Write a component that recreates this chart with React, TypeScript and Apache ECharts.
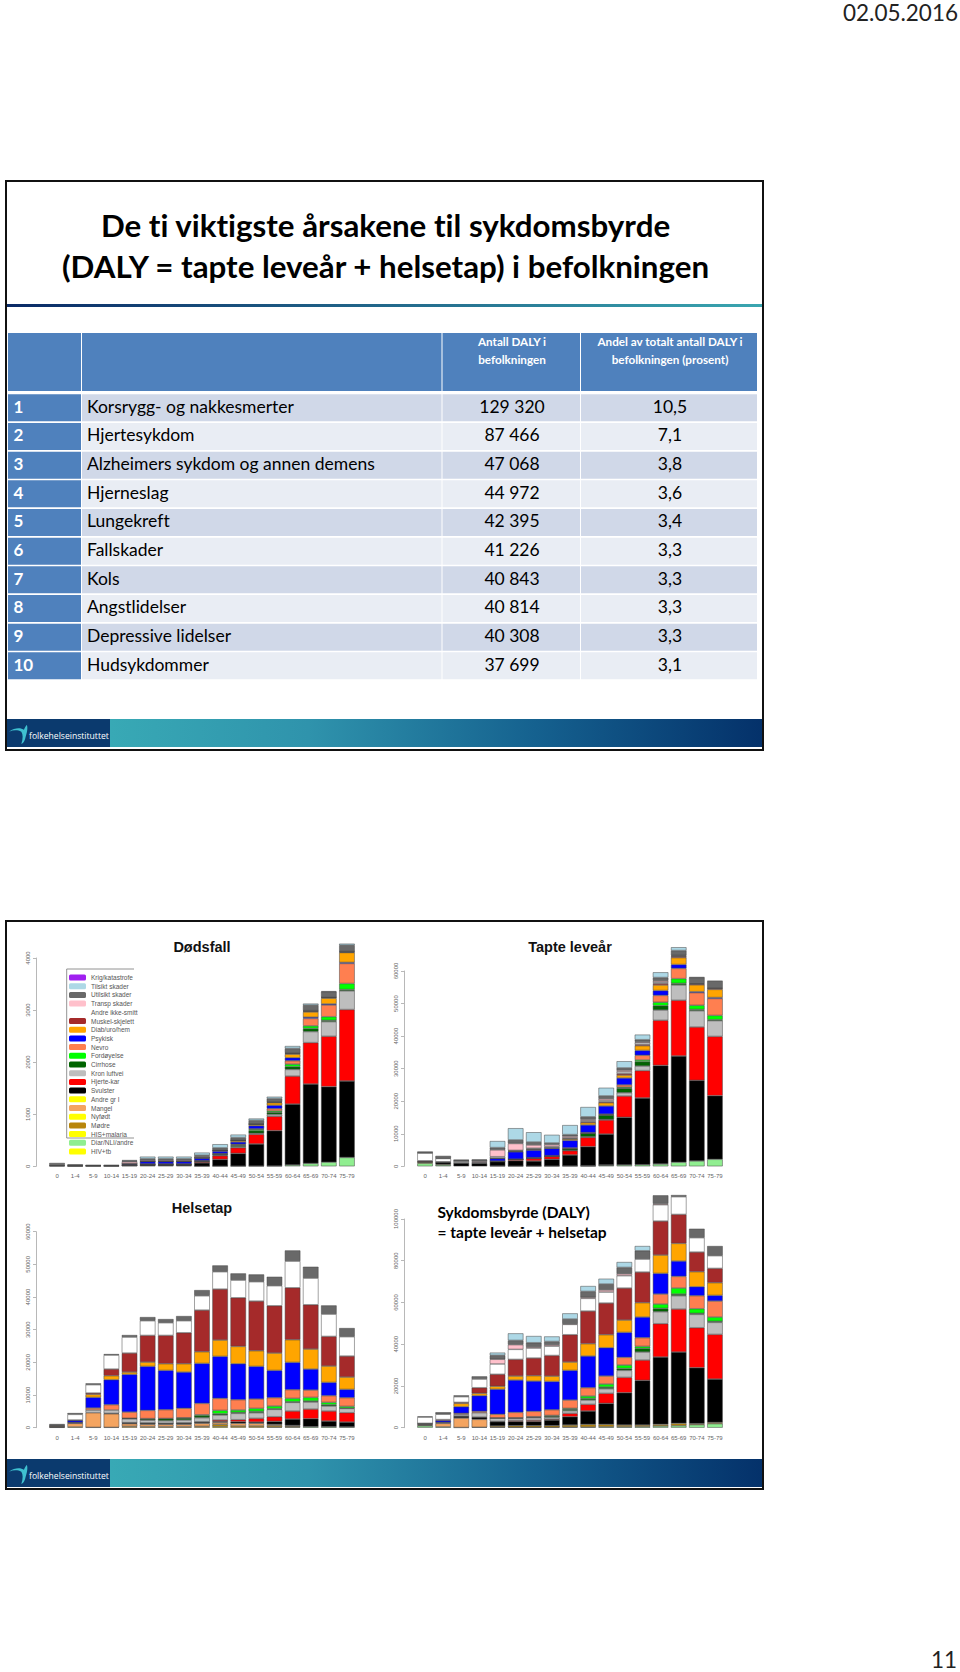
import React, { useEffect, useRef } from "react";
import * as echarts from "echarts";

const ageGroups = ["0","1-4","5-9","10-14","15-19","20-24","25-29","30-34","35-39","40-44","45-49","50-54","55-59","60-64","65-69","70-74","75-79"];

// Causes, bottom of the stack first
const causeNames = ["HIV+tb","Diar/NLI/andre","HIS+malaria","Mødre","Nyfødt","Mangel","Andre gr I","Svulster","Hjerte-kar","Kron luftvei","Cirrhose","Fordøyelse","Nevro","Psykisk","Diab/uro/hem","Muskel-skjelett","Andre ikke-smitt","Transp skader","Utilsikt skader","Tilsikt skader","Krig/katastrofe"];
const causeColors = ["#ffff00","#90ee90","#ffff00","#b8860b","#ffff00","#f4a460","#ffff00","#000000","#ff0000","#bebebe","#006400","#00ff00","#ff7f50","#0000ff","#ffa500","#a52a2a","#ffffff","#ffc0cb","#696969","#add8e6","#a020f0"];

const none = [0,0,0,0,0,0,0,0,0,0,0,0,0,0,0,0,0];

// Dødsfall
const dDiar = [6,3,0,0,0,0,0,0,1,2,3,4,5,25,55,80,170];
const dNyfodt = [8,0,0,0,0,0,0,0,0,0,0,0,0,0,0,0,0];
const dSvulster = [2,6,6,6,15,25,25,25,65,130,245,425,680,1170,1525,1450,1470];
const dHjerte = [0,0,0,0,3,8,8,8,20,70,108,185,275,537,795,966,1370];
const dKron = [0,0,0,0,1,3,3,3,5,12,20,20,38,128,212,282,360];
const dCirr = [0,0,0,0,0,3,3,3,10,20,25,50,39,52,60,25,25];
const dFord = [0,0,0,0,1,1,1,1,2,4,10,25,25,50,50,70,115];
const dNevro = [0,3,3,2,5,6,6,6,8,8,12,10,45,65,142,225,385];
const dPsyk = [0,0,0,0,18,45,45,45,45,45,45,60,64,57,25,20,20];
const dDiab = [0,0,0,0,3,4,4,4,7,12,26,25,50,70,100,110,190];
const dMusk = [0,0,0,0,2,2,2,2,3,3,5,5,10,15,15,15,10];
const dAndre = [10,6,3,3,3,3,3,3,2,3,3,3,5,5,5,5,5];
const dTransp = [0,0,5,6,35,20,20,20,15,10,6,5,5,5,5,5,5];
const dUlikt = [38,20,8,8,20,25,25,25,30,35,45,65,60,85,105,100,120];
const dTilsikt = [0,0,0,0,14,40,40,40,50,70,55,35,35,45,30,10,30];

// Tapte leveår
const tDiar = [900,400,0,0,80,40,40,50,80,100,300,400,500,700,1230,1640,2150];
const tModre = [0,0,0,0,0,0,0,0,0,100,100,0,0,0,0,0,0];
const tNyfodt = [300,200,0,0,0,0,0,0,0,0,0,0,0,0,0,0,0];
const tMangel = [100,0,0,0,0,0,0,0,0,0,0,0,0,0,0,0,0];
const tSvulster = [100,700,1000,900,1350,1700,1600,2100,3400,5840,9500,14650,20500,30300,32670,24760,19550];
const tHjerte = [100,0,0,0,100,350,800,900,1320,2860,4330,6550,8400,13850,17100,16400,18200];
const tKron = [0,0,0,0,20,30,60,60,100,200,200,1000,1400,3150,4700,5000,4850];
const tCirr = [0,0,0,0,0,30,60,60,500,1000,1300,1400,1350,1350,500,400,300];
const tFord = [0,0,0,0,0,0,0,0,50,50,100,300,500,1050,1450,1260,1300];
const tNevro = [0,100,100,100,50,50,100,100,200,200,200,700,1450,2100,3150,3890,5200];
const tPsyk = [0,0,0,0,800,2250,2300,2200,2300,2350,2500,2130,1500,1500,1200,300,300];
const tDiab = [0,0,0,0,100,150,200,200,400,700,1000,900,1450,1700,2100,2100,2500];
const tMusk = [200,0,0,0,50,100,100,100,200,300,300,500,400,500,400,300,300];
const tAndre = [2400,1000,500,200,400,200,300,300,200,300,400,500,500,400,150,100,100];
const tTransp = [50,100,50,300,2100,2100,1000,600,500,400,500,500,300,400,150,150,100];
const tUlikt = [400,700,250,450,700,1100,900,500,500,800,900,700,650,1000,1500,1700,2000];
const tTilsikt = [0,0,50,100,2000,3600,3000,2500,2900,3000,2500,2050,1550,1600,1000,100,100];

// Helsetap
const hHiv = [100,230,0,0,0,0,0,0,0,300,0,0,200,200,0,0,0];
const hDiar = [0,0,0,0,0,0,0,0,0,0,0,0,0,0,300,300,230];
const hModre = [0,0,100,100,420,320,320,320,430,730,530,530,520,300,0,0,0];
const hNyfodt = [100,0,0,0,0,0,0,0,0,0,0,0,0,0,0,0,0];
const hMangel = [300,1100,4490,4180,800,700,700,700,900,600,800,800,300,200,0,0,0];
const hSvulster = [20,200,0,100,300,400,300,410,400,300,510,400,920,1950,2450,1740,1500];
const hHjerte = [0,0,0,0,30,40,40,50,50,420,610,1130,1430,2450,2950,3060,2860];
const hKron = [0,0,810,1020,1200,830,780,870,1280,1530,1940,1730,2240,2650,2150,1530,1310];
const hCirr = [0,0,0,0,100,400,600,600,600,400,300,400,200,200,300,400,100];
const hFord = [0,0,0,0,50,100,100,100,300,1020,720,930,820,1030,1130,720,530];
const hNevro = [0,100,620,1640,1890,2510,2670,2890,3480,3680,3160,2850,2550,2650,2250,2050,2650];
const hPsyk = [0,620,3260,7650,11530,13470,12030,11090,12240,12850,11010,10000,8360,8370,6420,4070,2550];
const hDiab = [0,100,920,1220,710,1320,2040,2550,3570,5000,5310,4790,5310,6930,6120,5000,3770];
const hMusk = [100,0,410,2040,5820,8160,8670,9490,12750,15600,14890,15200,14480,15910,13570,9080,6430];
const hAndre = [200,1730,2550,4290,4900,4490,3880,3670,4380,5310,5410,5920,6120,8160,8160,6830,5920];
const hUlikt = [300,400,410,300,610,1120,1120,1430,1740,1930,2040,2240,2750,3260,3470,2650,2650];

// Sykdomsbyrde (DALY)
const sDiar = [900,400,0,0,200,160,160,160,280,300,400,400,500,800,960,1440,1920];
const sModre = [0,0,100,200,600,800,800,800,1000,1300,1200,880,780,800,1120,500,600];
const sNyfodt = [300,0,0,0,0,0,0,0,0,0,0,0,0,0,0,0,0];
const sMangel = [300,1680,4530,3800,0,0,0,0,0,0,0,0,0,0,0,0,0];
const sSvulster = [500,500,960,1110,2070,2070,2070,2710,3990,6400,10060,15490,21400,32260,34170,26810,20780];
const sHjerte = [0,0,0,0,150,400,500,400,1600,3180,4790,7340,9740,15970,20600,19150,21400];
const sKron = [0,0,800,2080,1600,1040,1260,880,1280,2070,2230,3360,3830,5750,6390,6400,5770];
const sCirr = [0,0,0,0,50,200,300,600,700,800,800,900,1750,1590,800,500,500];
const sFord = [0,0,0,0,50,100,180,320,410,1120,1440,1650,970,2080,2870,2210,2050];
const sNevro = [0,0,480,640,1710,2580,2560,2710,3990,3990,3830,3680,4150,4790,5590,6230,7670];
const sPsyk = [0,900,3190,7500,11980,15490,14530,13580,14220,15180,13580,11970,9900,9900,7350,4310,2710];
const sDiab = [0,0,1600,1120,1430,1910,2550,2550,3990,5900,6230,5910,6870,8780,8460,7190,6070];
const sMusk = [100,410,480,2710,5750,7990,8470,9900,13100,15660,15170,15330,14690,16290,13890,9420,6870];
const sAndre = [3000,2560,2710,4160,4950,4790,4790,4480,4940,6060,5270,5910,6220,7830,8470,6870,6060];
const sTransp = [0,0,0,0,2240,2240,500,600,300,500,1000,900,0,500,0,0,0];
const sUlikt = [300,950,640,1270,1910,2070,2050,1630,2260,2860,2830,3080,4000,4000,800,4310,4640];
const sTilsikt = [0,0,0,0,1280,3360,3200,2400,2720,2550,2550,2570,2240,0,0,0,0];

const dodsfallStack = [none,dDiar,none,none,dNyfodt,none,none,dSvulster,dHjerte,dKron,dCirr,dFord,dNevro,dPsyk,dDiab,dMusk,dAndre,dTransp,dUlikt,dTilsikt,none];
const tapteStack = [none,tDiar,none,tModre,tNyfodt,tMangel,none,tSvulster,tHjerte,tKron,tCirr,tFord,tNevro,tPsyk,tDiab,tMusk,tAndre,tTransp,tUlikt,tTilsikt,none];
const helseStack = [hHiv,hDiar,none,hModre,hNyfodt,hMangel,none,hSvulster,hHjerte,hKron,hCirr,hFord,hNevro,hPsyk,hDiab,hMusk,hAndre,none,hUlikt,none,none];
const dalyStack = [none,sDiar,none,sModre,sNyfodt,sMangel,none,sSvulster,sHjerte,sKron,sCirr,sFord,sNevro,sPsyk,sDiab,sMusk,sAndre,sTransp,sUlikt,sTilsikt,none];

const panelStacks = [dodsfallStack,tapteStack,helseStack,dalyStack];
const panelMax = [4000,60000,60000,100000];
const panelInterval = [1000,10000,10000,20000];

// Table
const ranks = ["1","2","3","4","5","6","7","8","9","10"];
const tableCauses = ["Korsrygg- og nakkesmerter","Hjertesykdom","Alzheimers sykdom og annen demens","Hjerneslag","Lungekreft","Fallskader","Kols","Angstlidelser","Depressive lidelser","Hudsykdommer"];
const tableCounts = ["129 320","87 466","47 068","44 972","42 395","41 226","40 843","40 814","40 308","37 699"];
const tableShares = ["10,5","7,1","3,8","3,6","3,4","3,3","3,3","3,3","3,3","3,1"];

const SANS = "Lato";
const ARIAL = "'Liberation Sans'";

echarts.graphic.registerShape("logo", echarts.graphic.extendPath("M0 7C7 2 14 3 17 5C18 3 19 1 20 0C21.5 1 21 7 19 12C18 16 17 19 14 20C16 14 16 10 14 7C10 5 5 5 0 7Z", {}));

function txt(text: string, x: number, y: number, size: number, opts: any = {}) {
  return {
    type: "text",
    style: {
      text, x, y,
      fontSize: size,
      fontFamily: opts.family || SANS,
      fontWeight: opts.weight || "normal",
      fill: opts.fill || "#000",
      align: opts.align || "left",
      textAlign: opts.align || "left",
      verticalAlign: "middle",
      textVerticalAlign: "middle",
    },
    z: 5,
  };
}
function rect(x: number, y: number, width: number, height: number, fill: any, z = 1) {
  return { type: "rect", shape: { x, y, width, height }, style: { fill }, z };
}
function frame(x: number, y: number, width: number, height: number) {
  return { type: "rect", shape: { x, y, width, height }, style: { fill: "none", stroke: "#111", lineWidth: 2 }, z: 4 };
}
function footer(y: number, h: number) {
  return [
    rect(6, y, 757, h, { type: "linear", x: 0, y: 0, x2: 1, y2: 0, colorStops: [
      { offset: 0, color: "#0b3a6e" }, { offset: 0.137, color: "#0b3a6e" }, { offset: 0.138, color: "#38a9b5" },
      { offset: 0.4, color: "#2f93ac" }, { offset: 0.7, color: "#15618f" }, { offset: 1, color: "#04316a" } ] }),
    { type: "logo", x: 9, y: y + 6, scaleX: 0.88, scaleY: 0.95, style: { fill: "#3fc0d0" }, z: 5 },
    txt("folkehelseinstituttet", 29, y + 16.5, 8.6, { fill: "#fff", family: "'Open Sans'" }),
  ];
}

function buildOption() {
  const grids = [
    { left: 48, width: 308, top: 958, height: 208.3 },
    { left: 416, width: 308, top: 971, height: 195.3 },
    { left: 48, width: 308, top: 1231.7, height: 196 },
    { left: 416, width: 308, top: 1219, height: 208.7 },
  ];
  const xAxis = grids.map((_, i) => ({
    type: "category", gridIndex: i, data: ageGroups,
    axisLine: { show: false }, axisTick: { show: false },
    axisLabel: { interval: 0, fontSize: 6, color: "#666", fontFamily: ARIAL, margin: 7 },
  }));
  const yAxis = grids.map((_, i) => ({
    type: "value", gridIndex: i, min: 0, max: panelMax[i], interval: panelInterval[i],
    offset: 12,
    axisLine: { show: true, lineStyle: { color: "#999", width: 0.7 } },
    axisTick: { show: true, length: 3, lineStyle: { color: "#999", width: 0.7 } },
    axisLabel: { rotate: 90, fontSize: 6, color: "#666", fontFamily: ARIAL, margin: 5, formatter: (v: number) => String(v) },
    splitLine: { show: false },
  }));
  const series: any[] = [];
  panelStacks.forEach((stack, p) => {
    stack.forEach((vals, c) => {
      series.push({
        type: "bar", name: causeNames[c], stack: "p" + p, xAxisIndex: p, yAxisIndex: p,
        barWidth: 15.5, clip: false, silent: true,
        itemStyle: { color: causeColors[c], borderColor: "#444", borderWidth: 0.5 },
        data: vals.map((v) => (v === 0 ? null : v)),
      });
    });
  });

  const g: any[] = [];
  // page furniture
  g.push(txt("02.05.2016", 958, 12, 22.5, { align: "right", fill: "#222" }));
  g.push(txt("11", 957, 1659, 22.5, { align: "right", fill: "#222" }));

  // slide 1
  g.push(frame(6, 181, 757, 569));
  g.push(txt("De ti viktigste årsakene til sykdomsbyrde", 385.5, 225, 31.3, { align: "center", weight: "bold" }));
  g.push(txt("(DALY = tapte leveår + helsetap) i befolkningen", 385.5, 266, 31.3, { align: "center", weight: "bold" }));
  g.push(rect(6, 304, 757, 3, { type: "linear", x: 0, y: 0, x2: 1, y2: 0, colorStops: [{ offset: 0, color: "#0a2a66" }, { offset: 1, color: "#3aa6b0" }] }));

  const cols = [[8, 73], [82, 359.5], [442.5, 137.5], [581, 176]];
  cols.forEach(([x, w]) => g.push(rect(x, 333, w, 58, "#4f81bd")));
  g.push(txt("Antall DALY i", 512, 341, 11.7, { align: "center", fill: "#fff", weight: "bold" }));
  g.push(txt("befolkningen", 512, 359, 11.7, { align: "center", fill: "#fff", weight: "bold" }));
  g.push(txt("Andel av totalt antall DALY i", 670, 341, 11.7, { align: "center", fill: "#fff", weight: "bold" }));
  g.push(txt("befolkningen (prosent)", 670, 359, 11.7, { align: "center", fill: "#fff", weight: "bold" }));
  ranks.forEach((r, i) => {
    const y = 394.3 + i * 28.67;
    const bg = i % 2 === 0 ? "#d0d8e8" : "#e9edf4";
    g.push(rect(8, y, 73, 27, "#4f81bd"));
    g.push(rect(82, y, 359.5, 27, bg));
    g.push(rect(442.5, y, 137.5, 27, bg));
    g.push(rect(581, y, 176, 27, bg));
    const cy = y + 12;
    g.push(txt(r, 13.5, cy, 17, { fill: "#fff", weight: "bold" }));
    g.push(txt(tableCauses[i], 87, cy, 17.5, {}));
    g.push(txt(tableCounts[i], 512, cy, 17.5, { align: "center" }));
    g.push(txt(tableShares[i], 670, cy, 17.5, { align: "center" }));
  });
  g.push(...footer(719, 28));

  // slide 2
  g.push(frame(6, 921, 757, 568));
  g.push(txt("Dødsfall", 202, 947, 14.5, { align: "center", weight: "bold", family: ARIAL, fill: "#111" }));
  g.push(txt("Tapte leveår", 570, 947, 14.5, { align: "center", weight: "bold", family: ARIAL, fill: "#111" }));
  g.push(txt("Helsetap", 202, 1208, 14.5, { align: "center", weight: "bold", family: ARIAL, fill: "#111" }));
  g.push(txt("Sykdomsbyrde (DALY)", 437.5, 1212, 15.5, { weight: "bold" }));
  g.push(txt("= tapte leveår + helsetap", 437.5, 1232, 15.5, { weight: "bold" }));
  g.push({ type: "polyline", shape: { points: [[134, 969], [66.7, 969], [66.7, 1138], [134, 1138]] }, style: { fill: "none", stroke: "#777", lineWidth: 0.8 }, z: 3 });
  g.push(...footer(1459, 28));

  return {
    animation: false,
    backgroundColor: "#fff",
    grid: grids.map((d) => ({ ...d, containLabel: false })),
    xAxis, yAxis, series,
    legend: {
      orient: "vertical", left: 69, top: 974, padding: 0,
      itemWidth: 17, itemHeight: 6, itemGap: 1.7, icon: "roundRect",
      selectedMode: false,
      itemStyle: { borderWidth: 0 },
      textStyle: { fontSize: 6.5, color: "#555", fontFamily: ARIAL, lineHeight: 6, padding: 0 },
      data: [...causeNames].reverse(),
    },
    graphic: { elements: g },
  };
}

export default function App() {
  const ref = useRef<HTMLDivElement>(null);
  useEffect(() => {
    document.body.style.margin = "0";
    const chart = echarts.init(ref.current!, undefined, { renderer: "svg" });
    chart.setOption(buildOption());
    return () => chart.dispose();
  }, []);
  return <div ref={ref} style={{ width: 960, height: 1672, fontVariantLigatures: "none" }} />;
}
